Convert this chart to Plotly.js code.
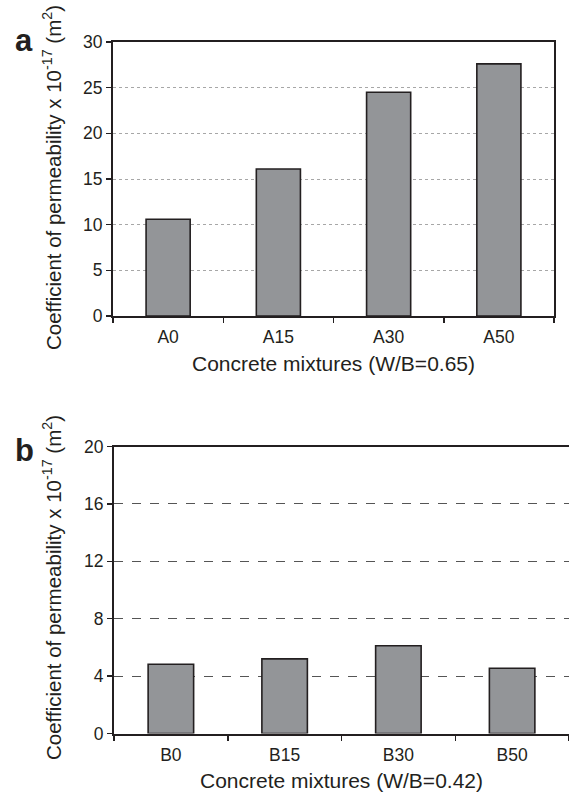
<!DOCTYPE html>
<html>
<head>
<meta charset="utf-8">
<script src="https://cdn.plot.ly/plotly-3.0.1.min.js"></script>
<style>html,body{margin:0;padding:0;background:#fff;}#chart{width:569px;height:794px;}</style>
</head>
<body>
<div id="chart"></div>
<script>
// Panel a data (W/B = 0.65)
const categoriesA = ["A0", "A15", "A30", "A50"];
const valuesA = [10.6, 16.1, 24.5, 27.6];
// Panel b data (W/B = 0.42)
const categoriesB = ["B0", "B15", "B30", "B50"];
const valuesB = [4.83, 5.2, 6.12, 4.55];

const yTitle = "Coefficient of permeability x 10<sup>-17</sup> (m<sup>2</sup>)";
const xTitleA = "Concrete mixtures (W/B=0.65)";
const xTitleB = "Concrete mixtures (W/B=0.42)";

const W = 569, H = 794;
const ink = "#231f20";
const barFill = "#939598";
const font = "Liberation Sans, Arial, sans-serif";

const px = v => v / W;
const py = v => 1 - v / H;

const barStyle = {color: barFill, line: {color: ink, width: 1.6}};

const traces = [
  {type: "bar", x: categoriesA, y: valuesA, xaxis: "x", yaxis: "y",
   width: 0.4, marker: barStyle, hoverinfo: "x+y"},
  {type: "bar", x: categoriesB, y: valuesB, xaxis: "x2", yaxis: "y2",
   width: 0.4, marker: barStyle, hoverinfo: "x+y"}
];

const xCommon = {
  type: "category", showline: true, linecolor: ink, linewidth: 2,
  ticks: "outside", ticklen: 5, tickwidth: 1.5, tickcolor: ink, tickson: "boundaries",
  showgrid: false, zeroline: false, ticklabelstandoff: 4,
  tickfont: {family: font, size: 17.5, color: ink}
};
const yCommon = {
  showline: true, linecolor: ink, linewidth: 2,
  ticks: "outside", ticklen: 5, tickwidth: 1.5, tickcolor: ink,
  zeroline: false, tickfont: {family: font, size: 17.5, color: ink}
};

const layout = {
  width: W, height: H,
  margin: {l: 0, r: 0, t: 0, b: 0},
  paper_bgcolor: "#fff", plot_bgcolor: "#fff",
  showlegend: false,
  bargap: 0.6,
  xaxis: Object.assign({}, xCommon, {
    domain: [px(113), px(554)], anchor: "y", mirror: true,
    title: {text: xTitleA, font: {family: font, size: 21, color: ink}, standoff: 10}
  }),
  yaxis: Object.assign({}, yCommon, {
    domain: [py(316), py(42)], anchor: "x", range: [0, 30], dtick: 5, mirror: true,
    showgrid: true, gridcolor: "#a7a7a7", gridwidth: 1, griddash: "dot"
  }),
  xaxis2: Object.assign({}, xCommon, {
    domain: [px(114), 1], anchor: "y2", mirror: true,
    title: {text: xTitleB, font: {family: font, size: 21, color: ink}, standoff: 10}
  }),
  yaxis2: Object.assign({}, yCommon, {
    domain: [py(733.5), py(446.5)], anchor: "x2", range: [0, 20], dtick: 4, mirror: false,
    showgrid: true, gridcolor: "#555555", gridwidth: 1, griddash: "dash"
  }),
  annotations: [
    {text: yTitle, xref: "paper", yref: "paper", x: px(52), y: py(178),
     xanchor: "center", yanchor: "middle", textangle: -90, showarrow: false,
     font: {family: font, size: 20.5, color: ink}},
    {text: yTitle, xref: "paper", yref: "paper", x: px(52), y: py(588),
     xanchor: "center", yanchor: "middle", textangle: -90, showarrow: false,
     font: {family: font, size: 20.5, color: ink}},
    {text: "<b>a</b>", xref: "paper", yref: "paper", x: px(24), y: py(40),
     xanchor: "center", yanchor: "middle", showarrow: false,
     font: {family: font, size: 31, color: ink}},
    {text: "<b>b</b>", xref: "paper", yref: "paper", x: px(24), y: py(450),
     xanchor: "center", yanchor: "middle", showarrow: false,
     font: {family: font, size: 31, color: ink}}
  ]
};

Plotly.newPlot("chart", traces, layout, {displayModeBar: false, staticPlot: true});
</script>
</body>
</html>
